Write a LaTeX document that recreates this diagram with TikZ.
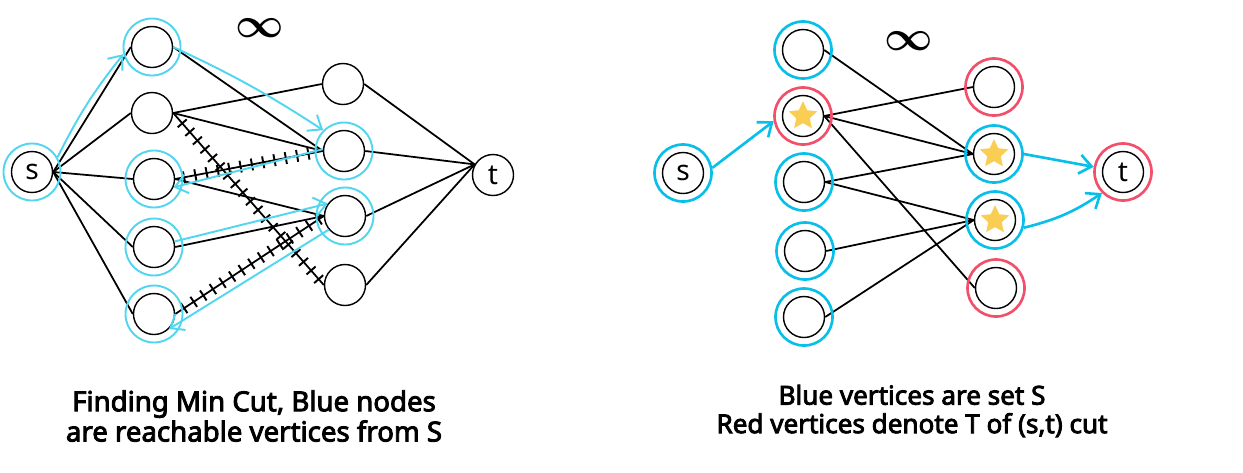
\documentclass[tikz,border=0pt]{standalone}
\usepackage{fontspec}
\setmainfont{Noto Sans}
\newfontfamily\capfont[FakeBold=3.2]{Noto Sans}
\usetikzlibrary{arrows.meta,shapes.geometric,decorations.markings}
\definecolor{paleblue}{HTML}{52D6F0}
\definecolor{deepblue}{HTML}{08BFEA}
\definecolor{halored}{HTML}{F2506A}
\definecolor{stargold}{HTML}{F9CE52}
\begin{document}
\begin{tikzpicture}[x=0.01cm,y=-0.01cm]
        	\tikzstyle{place}=[circle, draw=black, line width=0.4pt, minimum size=4.1mm, inner sep=0pt, font=\fontsize{8}{8}\selectfont]
        	\tikzstyle{halo}=[circle, minimum size=5.7mm, inner sep=0pt]
        	\tikzstyle{halo1}=[halo, draw=paleblue, line width=0.55pt]
        	\tikzstyle{halo2}=[halo, draw=deepblue, line width=0.75pt]
        	\tikzstyle{halo3}=[halo, draw=halored, line width=0.75pt]
        	\tikzstyle{edge}=[black, line width=0.5pt]
        	\tikzstyle{cutedge}=[edge, postaction={decorate, decoration={markings, mark=between positions 0.06 and 0.97 step 1.15mm with {\draw[line width=0.55pt] (0,-0.6mm) -- (0,0.6mm);}}}]
        	\tikzstyle{flow1}=[paleblue, line width=0.55pt, -{Straight Barb[length=1.2mm,width=1.9mm]}]
        	\tikzstyle{flow2}=[deepblue, line width=0.75pt, -{Straight Barb[length=1.2mm,width=1.9mm]}]
        	\tikzstyle{sign}=[inner sep=0pt, font=\fontsize{11.5}{11.5}\selectfont\boldmath]
        	\tikzstyle{caption}=[inner sep=0pt, align=center, font=\capfont\fontsize{7.85}{8.6}\selectfont]
        	\tikzstyle{caption2}=[inner sep=0pt, align=center, font=\capfont\fontsize{7.42}{8.1}\selectfont]
        	\tikzstyle{gold}=[star, star points=5, star point ratio=2.1, fill=stargold, minimum size=3mm, inner sep=0pt]
        	\useasboundingbox (0,0) rectangle (1243,472);
        	%---------------------%
        	% Left graph
        	\node at (32,172) [place] (ls) {s};
        	\node at (493,175) [place] (lt) {t};
        	\foreach \i/\px/\py in {1/152/47,2/152/113,3/154/179,4/154/247,5/154/314}
        		\node at (\px,\py) [place] (la_\i){};
        	\foreach \i/\px/\py in {1/343/84,2/344/151,3/345/216,4/345/285}
        		\node at (\px,\py) [place] (lb_\i){};
        	% Source -> Column 1
        	\foreach \i in {1,...,5}
        		\draw [edge] (ls.east) to (la_\i.west);
        	% Column 2 -> Sink
        	\foreach \i in {1,...,4}
        		\draw [edge] (lb_\i.east) to (lt.150);
        	% Column 1 -> Column 2
        	\foreach \i/\j in {1/2,2/1,2/2,3/3,4/3}
        		\draw [edge] (la_\i.east) to (lb_\j.west);
        	\foreach \i/\j in {2/4,3/2,5/3}
        		\draw [cutedge] (la_\i.east) to (lb_\j.west);
        	% Blue rings
        	\node at (ls) [halo1] (hls){};
        	\foreach \i in {1,3,4,5}
        		\node at (la_\i) [halo1] (hla_\i){};
        	\foreach \i in {2,3}
        		\node at (lb_\i) [halo1] (hlb_\i){};
        	% Residual path
        	\draw [flow1] (hls.30) to [bend left=6] (hla_1.194);
        	\draw [flow1] (la_1.0) to [bend left=4] (hlb_2.135);
        	\draw [flow1] (lb_2.175) to (la_3.-23);
        	\draw [flow1] (la_4.15) to (lb_3.144);
        	\draw [flow1] (lb_3.220) to (la_5.-45);
        	% Infinity
        	\node at (260,28) [sign] (linf) {$\infty$};
        	\node at (254,416) [caption] (lcap) {Finding Min Cut, Blue nodes\\are reachable vertices from S};
        	%---------------------%
        	% Right graph
        	\node at (683,173) [place] (rs) {s};
        	\node at (1123,172) [place] (rt) {t};
        	\foreach \i/\px/\py in {1/803/50,2/803/116,3/804/182,4/805/251,5/804/317}
        		\node at (\px,\py) [place] (ra_\i){};
        	\foreach \i/\px/\py in {1/994/87,2/994/154,3/995/220,4/996/288}
        		\node at (\px,\py) [place] (rb_\i){};
        	% Column 1 -> Column 2
        	\foreach \i/\j in {1/2,2/1,2/2,2/4,3/2,3/3,4/3,5/3}
        		\draw [edge] (ra_\i.east) to (rb_\j.west);
        	% Stars
        	\node at (ra_2) [gold] (star_1){};
        	\node at (rb_2) [gold] (star_2){};
        	\node at (rb_3) [gold] (star_3){};
        	% Rings
        	\node at (rs) [halo2] (hrs){};
        	\foreach \i in {1,3,4,5}
        		\node at (ra_\i) [halo2] (hra_\i){};
        	\foreach \i in {2,3}
        		\node at (rb_\i) [halo2] (hrb_\i){};
        	\node at (ra_2) [halo3] (hra_2){};
        	\foreach \i in {1,4}
        		\node at (rb_\i) [halo3] (hrb_\i){};
        	\node at (rt) [halo3] (hrt){};
        	% Flow arrows
        	\draw [flow2] (hrs.10) to (hra_2.190);
        	\draw [flow2] (hrb_2.0) to (hrt.170);
        	\draw [flow2] (hrb_3.-15) to [bend right=10] (hrt.225);
        	% Infinity
        	\node at (909,41) [sign] (rinf) {$\infty$};
        	\node at (912,411) [caption2] (rcap) {Blue vertices are set S\\Red vertices denote T of (s,t) cut};
        \end{tikzpicture}
\end{document}
